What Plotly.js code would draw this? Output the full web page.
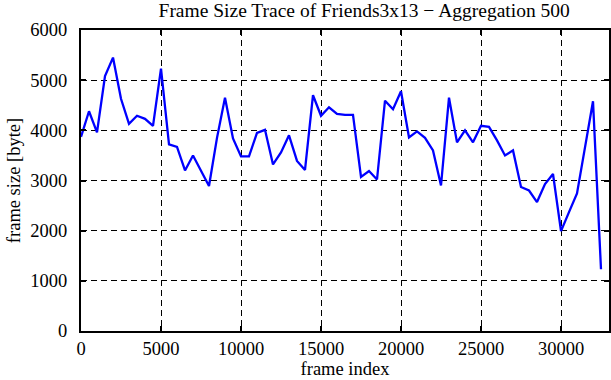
<!DOCTYPE html>
<html>
<head>
<meta charset="utf-8">
<script src="https://cdn.plot.ly/plotly-3.0.1.min.js"></script>
<style>html,body{margin:0;padding:0;background:#fff;}#chart{width:611px;height:380px;}</style>
</head>
<body>
<div id="chart"></div>
<script>
var frameIndex = [0,500,1000,1500,2000,2500,3000,3500,4000,4500,5000,5500,6000,6500,7000,7500,8000,8500,9000,9500,10000,10500,11000,11500,12000,12500,13000,13500,14000,14500,15000,15500,16000,16500,17000,17500,18000,18500,19000,19500,20000,20500,21000,21500,22000,22500,23000,23500,24000,24500,25000,25500,26000,26500,27000,27500,28000,28500,29000,29500,30000,30500,31000,31500,32000,32500];
var frameSize = [3870,4380,3960,5080,5450,4630,4130,4290,4230,4090,5230,3720,3670,3200,3500,3200,2890,3850,4650,3840,3480,3480,3950,4010,3320,3560,3900,3390,3210,4700,4290,4460,4330,4310,4310,3070,3190,3020,4590,4420,4780,3860,3980,3850,3600,2900,4650,3760,4000,3760,4090,4070,3800,3500,3600,2870,2800,2570,2930,3130,1990,2370,2740,3660,4580,1230];
var xTicks = [0,5000,10000,15000,20000,25000,30000];
var yTicks = [0,1000,2000,3000,4000,5000,6000];

var font = {family: 'Liberation Serif, Times New Roman, serif', size: 18.5, color: '#000'};
var axisCommon = {
  showline: true, linecolor: '#000', linewidth: 2, mirror: 'allticks',
  ticks: 'inside', ticklen: 5, tickwidth: 2, tickcolor: '#000',
  showgrid: true, gridcolor: '#000', gridwidth: 1, griddash: '6px,4px',
  zeroline: false, tickfont: font
};
var layout = {
  width: 611, height: 380,
  margin: {l: 81, r: 2, t: 30, b: 49},
  paper_bgcolor: '#fff', plot_bgcolor: '#fff',
  font: font,
  showlegend: false,
  title: {text: 'Frame Size Trace of Friends3x13 \u2212 Aggregation 500', font: {family: font.family, size: 19.5, color: '#000'}, x: 0.596, xanchor: 'center', y: 0.972, yanchor: 'middle'},
  xaxis: Object.assign({}, axisCommon, {
    range: [0, 33000], tickvals: xTicks, ticktext: xTicks.map(String),
    ticklabelstandoff: 0,
    title: {text: 'frame index', font: font, standoff: 2}
  }),
  yaxis: Object.assign({}, axisCommon, {
    range: [0, 6000], tickvals: yTicks, ticktext: yTicks.map(String),
    ticklabelstandoff: 8,
    title: {text: 'frame size [byte]', font: font, standoff: 5}
  })
};
var trace = {
  x: frameIndex, y: frameSize, type: 'scatter', mode: 'lines',
  line: {color: '#0000ff', width: 2.3}, hoverinfo: 'none'
};
Plotly.newPlot('chart', [trace], layout, {displayModeBar: false, staticPlot: true});
</script>
</body>
</html>
